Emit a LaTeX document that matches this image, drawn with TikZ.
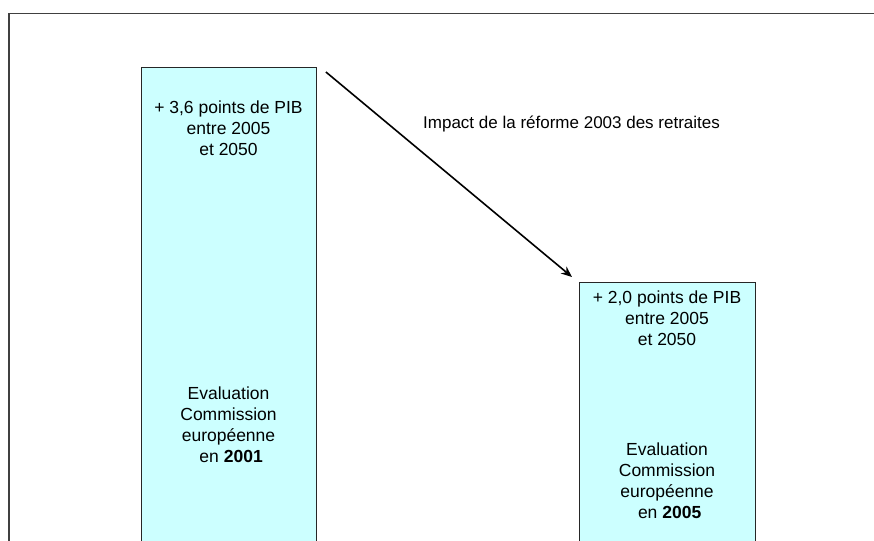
\documentclass[tikz,border=0pt]{standalone}
\usepackage{fontspec}
\setmainfont{Liberation Sans}
\usetikzlibrary{arrows.meta,calc}
\definecolor{boxcyan}{HTML}{CCFFFF}
\definecolor{framegray}{HTML}{404040}
\begin{document}
\begin{tikzpicture}[x=1pt,y=-1pt,
  bar/.style={draw=black!85,line width=0.9pt,fill=boxcyan,anchor=north west,inner sep=0pt},
  boxtext/.style={align=center,font=\fontsize{17.5}{21}\selectfont,inner sep=0pt},
  labeltext/.style={font=\fontsize{17}{20}\selectfont,inner sep=0pt},
  impact/.style={line width=1.6pt,-{Stealth[length=11pt,width=9pt]}}]
\useasboundingbox (0,0) rectangle (874,540);
\draw[framegray,line width=1.4pt] (875,13.5) -- (9,13.5) -- (9,541);
% left bar
\node[bar,minimum width=175pt,minimum height=476pt] (old) at (141,67) {};
\node[boxtext] (oldtop) at (228.5,128) {+ 3,6 points de PIB\\entre 2005\\et 2050};
\node[boxtext] (oldbot) at (228.5,424.5) {Evaluation\\Commission\\européenne\\\hspace{0.3em}en \textbf{2001}};
% right bar
\node[bar,minimum width=176pt,minimum height=261pt] (new) at (579,282) {};
\node[boxtext] (newtop) at (667,318.5) {+ 2,0 points de PIB\\entre 2005\\et 2050};
\node[boxtext] (newbot) at (667,481) {Evaluation\\Commission\\européenne\\\hspace{0.3em}en \textbf{2005}};
% arrow
\coordinate (start) at ($(old.north east)+(9,5)$);
\coordinate (end) at ($(new.north west)+(-7,-5)$);
\draw[impact] (start) -- (end);
\node[labeltext,anchor=west] (lbl) at (423,124) {Impact de la réforme 2003 des retraites};
\end{tikzpicture}
\end{document}
